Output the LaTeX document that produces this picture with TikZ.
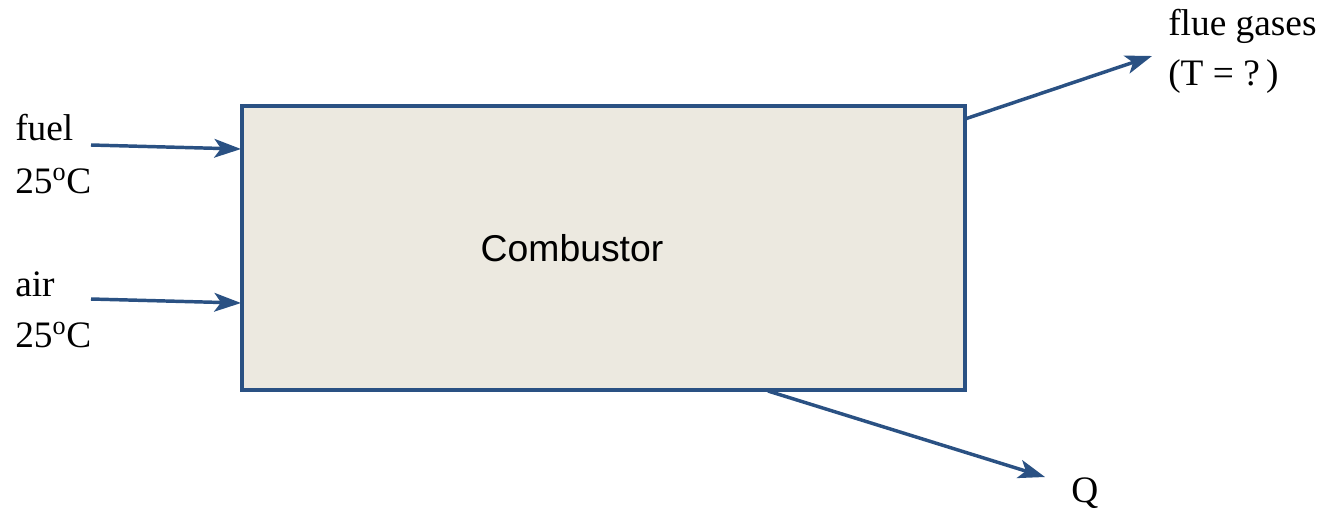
\documentclass[tikz,border=0pt]{standalone}
\usepackage{fontspec}
\setmainfont{Liberation Serif}
\newfontfamily\arialfont{Liberation Sans}
\usetikzlibrary{arrows.meta}
\definecolor{lineblue}{HTML}{2A5183}
\definecolor{boxfill}{HTML}{ECE9E0}
\tikzset{
  flow/.style={draw=lineblue, line width=2.6pt, -{Stealth[length=20pt,width=14pt,inset=5pt]}},
  lbl/.style={anchor=base west, inner sep=0pt, font=\fontsize{28}{32}\selectfont},
  unit/.style={x=0.75pt, y=-0.75pt}
}
\begin{document}
\begin{tikzpicture}[unit]
\useasboundingbox (0,0) rectangle (1319,512);
\node[draw=lineblue, line width=2.6pt, fill=boxfill, minimum width=723*0.75pt, minimum height=284*0.75pt, inner sep=0pt] (box) at (603.5,248) {};
\node[font=\arialfont\fontsize{28}{32}\selectfont, inner sep=0pt] (lab) at (572,248) {Combustor};
\node[lbl] (fuel) at (15,140) {fuel};
\node[lbl] (fuelT) at (15,193) {25\textsuperscript{o}C};
\node[lbl] (air) at (15,296) {air};
\node[lbl] (airT) at (15,347) {25\textsuperscript{o}C};
\node[lbl] (flue) at (1168,35) {flue gases};
\node[lbl] (flueT) at (1168,85) {(T = ?\,)};
\node[lbl] (q) at (1071,502) {Q};
\coordinate (fuelS) at (91,145);
\coordinate (fuelE) at (241,149);
\coordinate (airS) at (91,299);
\coordinate (airE) at (241,303);
\coordinate (flueS) at (965,119);
\coordinate (flueE) at (1152,56);
\coordinate (qS) at (768,391);
\coordinate (qE) at (1045,477);
\draw[flow] (fuelS) -- (fuelE);
\draw[flow] (airS) -- (airE);
\draw[flow] (flueS) -- (flueE);
\draw[flow] (qS) -- (qE);
\end{tikzpicture}
\end{document}
